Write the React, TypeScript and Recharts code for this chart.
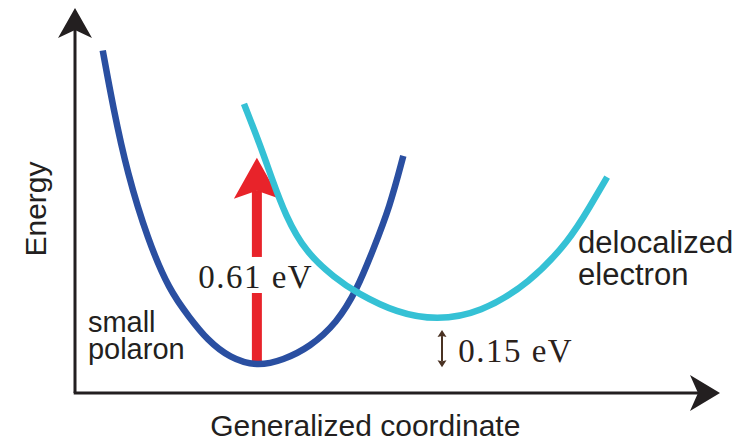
import React from "react"
import { ComposedChart, Line, XAxis, YAxis, ReferenceLine, ReferenceDot } from "recharts"

// generalized coordinate (arb. units 0-100), energy in eV relative to the polaron minimum
const polaronCoord = [4.3, 5.9, 8.1, 11.3, 14.6, 17.7, 20.5, 24.0, 28.2, 32.3, 36.4, 40.6, 43.7, 46.2, 48.8, 50.9]
const polaronEnergy = [0.925, 0.759, 0.565, 0.368, 0.221, 0.141, 0.074, 0.021, -0.004, 0.015, 0.053, 0.124, 0.221, 0.338, 0.465, 0.615]

const electronCoord = [26.2, 28.7, 30.5, 32.6, 35.7, 40.3, 43.7, 49.9, 56.1, 62.8, 70.5, 76.7, 79.8, 82.5]
const electronEnergy = [0.768, 0.647, 0.55, 0.441, 0.333, 0.256, 0.212, 0.153, 0.132, 0.153, 0.241, 0.368, 0.465, 0.553]

const excitationCoord = 28.2
const excitationEnergy = 0.61
const offsetCoord = 56.9
const offsetRange = [-0.006, 0.103]

const polaronData = polaronCoord.map((g, i) => ({ g, e: polaronEnergy[i] }))
const electronData = electronCoord.map((g, i) => ({ g, e: electronEnergy[i] }))

const X_DOMAIN: [number, number] = [0, 100]
const Y_DOMAIN: [number, number] = [-0.082, 1.05]

const INK = "#231f20"
const SANS = "'Liberation Sans', Arial, sans-serif"
const SERIF = "'Liberation Serif', 'Times New Roman', serif"

type ArrowOpts = {
  color: string
  width: number
  head: number
  half: number
  notch: number
  both?: boolean
}

// arrow from (x1,y1) to (x2,y2), head at the end (or both ends)
const arrowShape = (o: ArrowOpts) => (props: any) => {
  const { x1, y1, x2, y2 } = props
  const dx = x2 - x1
  const dy = y2 - y1
  const len = Math.hypot(dx, dy) || 1
  const ux = dx / len
  const uy = dy / len
  const px = -uy
  const py = ux
  const headAt = (tx: number, ty: number, sx: number, sy: number) => {
    const bx = tx - sx * o.head
    const by = ty - sy * o.head
    const nx = tx - sx * (o.head - o.notch)
    const ny = ty - sy * (o.head - o.notch)
    return {
      pts: `${tx},${ty} ${bx + px * o.half},${by + py * o.half} ${nx},${ny} ${bx - px * o.half},${by - py * o.half}`,
      nx,
      ny,
    }
  }
  const end = headAt(x2, y2, ux, uy)
  const start = o.both ? headAt(x1, y1, -ux, -uy) : null
  return (
    <g>
      <line
        x1={start ? start.nx : x1}
        y1={start ? start.ny : y1}
        x2={end.nx}
        y2={end.ny}
        stroke={o.color}
        strokeWidth={o.width}
      />
      <polygon points={end.pts} fill={o.color} />
      {start && <polygon points={start.pts} fill={o.color} />}
    </g>
  )
}

const barShape = (color: string, width: number) => (props: any) => {
  const { x1, y1, x2, y2 } = props
  return <line x1={x1} y1={y1} x2={x2} y2={y2} stroke={color} strokeWidth={width} />
}

const textShape =
  (lines: string[], opts: { font: string; size: number; color?: string; anchor?: string; rotate?: boolean; lineGap?: number; spacing?: number }) =>
  (props: any) => {
    const { cx, cy } = props
    return (
      <text
        x={cx}
        y={cy}
        fontFamily={opts.font}
        fontSize={opts.size}
        fill={opts.color || INK}
        textAnchor={opts.anchor || "start"}
        letterSpacing={opts.spacing || 0}
        transform={opts.rotate ? `rotate(-90, ${cx}, ${cy})` : undefined}
      >
        {lines.map((l, i) => (
          <tspan key={i} x={cx} dy={i === 0 ? 0 : opts.lineGap}>
            {l}
          </tspan>
        ))}
      </text>
    )
  }

export default function App() {
  return (
    <div style={{ position: "absolute", left: 0, top: 0, width: 754, height: 443, background: "#fff" }}>
      <ComposedChart width={754} height={443} margin={{ top: 8, right: 34, bottom: 50, left: 75 }}>
        <XAxis type="number" dataKey="g" domain={X_DOMAIN} allowDataOverflow hide height={0} />
        <YAxis type="number" dataKey="e" domain={Y_DOMAIN} allowDataOverflow hide width={0} />

        {/* excitation arrow, shaft broken around its label */}
        <ReferenceLine
          segment={[{ x: excitationCoord, y: 0 }, { x: excitationCoord, y: 0.212 }]}
          ifOverflow="visible"
          shape={barShape("#e8232a", 10)}
        />
        <ReferenceLine
          segment={[{ x: excitationCoord, y: 0.318 }, { x: excitationCoord, y: excitationEnergy }]}
          ifOverflow="visible"
          shape={arrowShape({ color: "#e8232a", width: 10, head: 41, half: 23, notch: 8 })}
        />

        <Line
          data={polaronData}
          dataKey="e"
          type="basis"
          stroke="#2a4fa1"
          strokeWidth={6.5}
          strokeLinecap="butt"
          dot={false}
          activeDot={false}
          isAnimationActive={false}
        />
        <Line
          data={electronData}
          dataKey="e"
          type="basis"
          stroke="#35c1d5"
          strokeWidth={6.5}
          strokeLinecap="butt"
          dot={false}
          activeDot={false}
          isAnimationActive={false}
        />

        {/* axes with arrowheads */}
        <ReferenceLine
          segment={[{ x: 0, y: Y_DOMAIN[0] }, { x: 0, y: Y_DOMAIN[1] }]}
          ifOverflow="visible"
          shape={arrowShape({ color: INK, width: 3, head: 30, half: 17, notch: 8 })}
        />
        <ReferenceLine
          segment={[{ x: -0.2, y: Y_DOMAIN[0] }, { x: 100, y: Y_DOMAIN[0] }]}
          ifOverflow="visible"
          shape={arrowShape({ color: INK, width: 3, head: 30, half: 18, notch: 8 })}
        />

        {/* 0.15 eV offset marker */}
        <ReferenceLine
          segment={[{ x: offsetCoord, y: offsetRange[0] }, { x: offsetCoord, y: offsetRange[1] }]}
          ifOverflow="visible"
          shape={arrowShape({ color: "#4a3223", width: 2, head: 7, half: 4.5, notch: 1, both: true })}
        />

        <ReferenceDot x={-4.5} y={0.459} r={0} ifOverflow="visible"
          shape={textShape(["Energy"], { font: SANS, size: 30, anchor: "middle", rotate: true })} />
        <ReferenceDot x={45} y={-0.208} r={0} ifOverflow="visible"
          shape={textShape(["Generalized coordinate"], { font: SANS, size: 30, anchor: "middle" })} />
        <ReferenceDot x={2.0} y={0.097} r={0} ifOverflow="visible"
          shape={textShape(["small", "polaron"], { font: SANS, size: 29, lineGap: 27 })} />
        <ReferenceDot x={78.0} y={0.33} r={0} ifOverflow="visible"
          shape={textShape(["delocalized", "electron"], { font: SANS, size: 31, lineGap: 32 })} />
        <ReferenceDot x={19.1} y={0.227} r={0} ifOverflow="visible"
          shape={textShape(["0.61 eV"], { font: SERIF, size: 33, spacing: 1.5 })} />
        <ReferenceDot x={59.4} y={0.009} r={0} ifOverflow="visible"
          shape={textShape(["0.15 eV"], { font: SERIF, size: 33, spacing: 1.5, color: "#2b211b" })} />
      </ComposedChart>
    </div>
  )
}
